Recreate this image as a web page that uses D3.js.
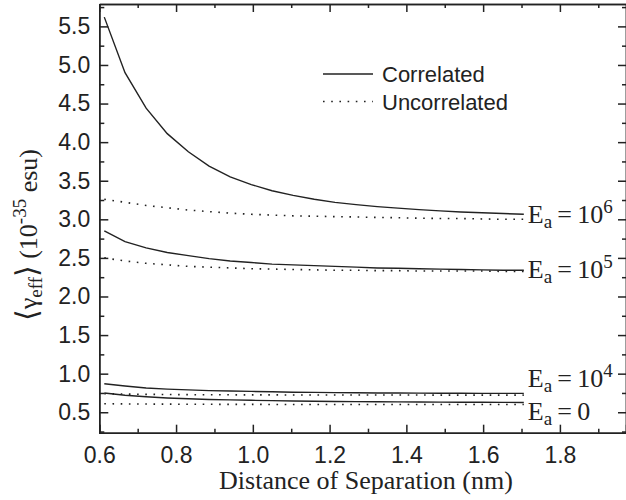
<!DOCTYPE html>
<html>
<head>
<meta charset="utf-8">
<script src="https://cdnjs.cloudflare.com/ajax/libs/d3/7.8.5/d3.min.js"></script>
<style>
    body { margin: 0; background: #fff; }
    svg { display: block; }
    .tick text { font-family: "Liberation Sans", Arial, sans-serif; font-size: 23px; fill: #222; }
    .domain, .tick line { stroke: #222; stroke-width: 1.5px; }
</style>
</head>
<body>
<svg id="chart"></svg>
<script>
// separation (nm)
const xVals = [0.613, 0.667, 0.722, 0.777, 0.832, 0.886, 0.941, 0.996, 1.05, 1.105, 1.16,
    1.214, 1.269, 1.324, 1.378, 1.433, 1.488, 1.542, 1.597, 1.652, 1.706];

// <gamma_eff> (10^-35 esu)
const corr6 = [5.62, 4.90, 4.44, 4.11, 3.875, 3.69, 3.55, 3.45, 3.37, 3.31, 3.26,
    3.22, 3.19, 3.165, 3.145, 3.125, 3.11, 3.095, 3.085, 3.075, 3.065];
const unc6 = [3.26, 3.22, 3.18, 3.15, 3.12, 3.10, 3.08, 3.065, 3.055, 3.045, 3.04,
    3.035, 3.03, 3.025, 3.02, 3.015, 3.01, 3.01, 3.005, 3.0, 3.0];
const corr5 = [2.85, 2.71, 2.63, 2.57, 2.53, 2.49, 2.46, 2.44, 2.42, 2.41, 2.40,
    2.39, 2.38, 2.37, 2.365, 2.36, 2.355, 2.35, 2.345, 2.34, 2.34];
const unc5 = [2.50, 2.46, 2.43, 2.41, 2.39, 2.38, 2.37, 2.36, 2.355, 2.35, 2.345,
    2.34, 2.34, 2.335, 2.335, 2.33, 2.33, 2.33, 2.33, 2.325, 2.325];
const corr4 = [0.87, 0.84, 0.815, 0.80, 0.79, 0.78, 0.775, 0.77, 0.765, 0.76, 0.757,
    0.754, 0.752, 0.75, 0.749, 0.748, 0.747, 0.746, 0.745, 0.745, 0.744];
const unc4 = [0.74, 0.735, 0.732, 0.73, 0.728, 0.727, 0.726, 0.725, 0.725, 0.724, 0.724,
    0.724, 0.723, 0.723, 0.723, 0.723, 0.722, 0.722, 0.722, 0.722, 0.722];
const corr0 = [0.75, 0.72, 0.70, 0.685, 0.675, 0.665, 0.66, 0.655, 0.65, 0.645, 0.642,
    0.64, 0.638, 0.636, 0.634, 0.632, 0.631, 0.63, 0.629, 0.628, 0.627];
const unc0 = [0.61, 0.608, 0.606, 0.605, 0.604, 0.603, 0.602, 0.602, 0.601, 0.601, 0.60,
    0.60, 0.60, 0.60, 0.60, 0.60, 0.60, 0.60, 0.60, 0.60, 0.60];

// curve labels "E_a = ..."
const labelBase = ["10", "10", "10", "0"];
const labelSup = ["6", "5", "4", ""];
const labelAt = [2.95, 2.235, 0.83, 0.40];

const xTicks = [0.6, 0.8, 1.0, 1.2, 1.4, 1.6, 1.8];
const xMinor = [0.7, 0.9, 1.1, 1.3, 1.5, 1.7, 1.9];
const yTicks = [0.5, 1.0, 1.5, 2.0, 2.5, 3.0, 3.5, 4.0, 4.5, 5.0, 5.5];
const yMinor = [0.25, 0.75, 1.25, 1.75, 2.25, 2.75, 3.25, 3.75, 4.25, 4.75, 5.25, 5.75];

const width = 626;
const height = 500;
const mLeft = 99.3, mRight = 626, mTop = 4, mBottom = 432.7;

const svg = d3.select('#chart')
    .attr('width', width)
    .attr('height', height);

const x = d3.scaleLinear().domain([0.6, 1.9 + (626 - 598.3) / 383.5]).range([mLeft, mRight]);
const y = d3.scaleLinear().domain([0.235, 5.79]).range([mBottom, mTop]);

const serif = '"Liberation Serif", "Times New Roman", serif';
const sans = '"Liberation Sans", Arial, sans-serif';
const ink = '#222';

// axes, ticks all pointing inward
svg.append('g').attr('transform', `translate(0,${mBottom})`)
    .call(d3.axisBottom(x).tickValues(xTicks).tickFormat(d3.format('.1f')).tickSize(-8).tickPadding(14));
svg.append('g').attr('transform', `translate(0,${mBottom})`)
    .call(d3.axisBottom(x).tickValues(xMinor).tickFormat('').tickSize(-4).tickSizeOuter(0));
svg.append('g').attr('transform', `translate(0,${mTop})`)
    .call(d3.axisTop(x).tickValues(xTicks).tickFormat('').tickSize(-8).tickSizeOuter(0));
svg.append('g').attr('transform', `translate(0,${mTop})`)
    .call(d3.axisTop(x).tickValues(xMinor).tickFormat('').tickSize(-4).tickSizeOuter(0));

svg.append('g').attr('transform', `translate(${mLeft},0)`)
    .call(d3.axisLeft(y).tickValues(yTicks).tickFormat(d3.format('.1f')).tickSize(-9).tickPadding(9).tickSizeOuter(0));
svg.append('g').attr('transform', `translate(${mLeft},0)`)
    .call(d3.axisLeft(y).tickValues(yMinor).tickFormat('').tickSize(-5).tickSizeOuter(0));
svg.append('g').attr('transform', `translate(${mRight},0)`)
    .call(d3.axisRight(y).tickValues(yTicks).tickFormat('').tickSize(-8).tickSizeOuter(0));
svg.append('g').attr('transform', `translate(${mRight},0)`)
    .call(d3.axisRight(y).tickValues(yMinor).tickFormat('').tickSize(-4).tickSizeOuter(0));

// curves
const line = d3.line()
    .x(function (d) { return x(d[0]); })
    .y(function (d) { return y(d[1]); });

const series = [
    { v: corr6, dotted: false }, { v: unc6, dotted: true },
    { v: corr5, dotted: false }, { v: unc5, dotted: true },
    { v: corr4, dotted: false }, { v: unc4, dotted: true },
    { v: corr0, dotted: false }, { v: unc0, dotted: true }
];

svg.append('g').selectAll('path')
    .data(series)
    .enter()
    .append('path')
    .attr('d', function (d) { return line(d.v.map(function (v, i) { return [xVals[i], v]; })); })
    .attr('fill', 'none')
    .attr('stroke', ink)
    .attr('stroke-width', function (d) { return d.dotted ? 1.6 : 1.4; })
    .attr('stroke-dasharray', function (d) { return d.dotted ? '1.6,6.6' : null; });

// E_a labels at line ends
const lab = svg.append('g').selectAll('text')
    .data(labelAt)
    .enter()
    .append('text')
    .attr('x', x(xVals[xVals.length - 1]) + 4)
    .attr('y', function (d) { return y(d); })
    .attr('font-family', serif)
    .attr('font-size', 26)
    .attr('fill', ink);
lab.append('tspan').text('E');
lab.append('tspan').attr('font-size', 19).attr('dy', 5).text('a');
lab.append('tspan').attr('dy', -5).text(function (d, i) { return '\u2009=\u2009' + labelBase[i]; });
lab.append('tspan').attr('font-size', 19).attr('dy', -10).text(function (d, i) { return labelSup[i]; });

// legend
const legend = [
    { name: 'Correlated', dotted: false },
    { name: 'Uncorrelated', dotted: true }
];
const lg = svg.append('g').selectAll('g')
    .data(legend)
    .enter()
    .append('g')
    .attr('transform', function (d, i) { return `translate(323,${74 + i * 27.5})`; });
lg.append('line')
    .attr('x1', 0).attr('x2', 50)
    .attr('stroke', ink)
    .attr('stroke-width', function (d) { return d.dotted ? 1.6 : 1.4; })
    .attr('stroke-dasharray', function (d) { return d.dotted ? '1.6,6.6' : null; });
lg.append('text')
    .attr('x', 59).attr('y', 8)
    .attr('font-family', sans)
    .attr('font-size', 22)
    .attr('fill', ink)
    .text(function (d) { return d.name; });

// axis titles
svg.append('text')
    .attr('x', 366)
    .attr('y', 489)
    .attr('text-anchor', 'middle')
    .attr('font-family', serif)
    .attr('font-size', 26)
    .attr('fill', ink)
    .text('Distance of Separation (nm)');

const yt = svg.append('text')
    .attr('transform', 'translate(37,235) rotate(-90)')
    .attr('text-anchor', 'middle')
    .attr('font-family', serif)
    .attr('font-size', 26)
    .attr('fill', ink);
yt.append('tspan').attr('font-family', '"DejaVu Sans", sans-serif').attr('font-size', 30).text('\u27E8');
yt.append('tspan').text('\u03B3');
yt.append('tspan').attr('font-size', 19).attr('dy', 5).text('eff');
yt.append('tspan').attr('dy', -5).attr('font-family', '"DejaVu Sans", sans-serif').attr('font-size', 30).text('\u27E9');
yt.append('tspan').text(' (10');
yt.append('tspan').attr('font-size', 19).attr('dy', -11).text('-35');
yt.append('tspan').attr('dy', 11).text(' esu)');
</script>
</body>
</html>
